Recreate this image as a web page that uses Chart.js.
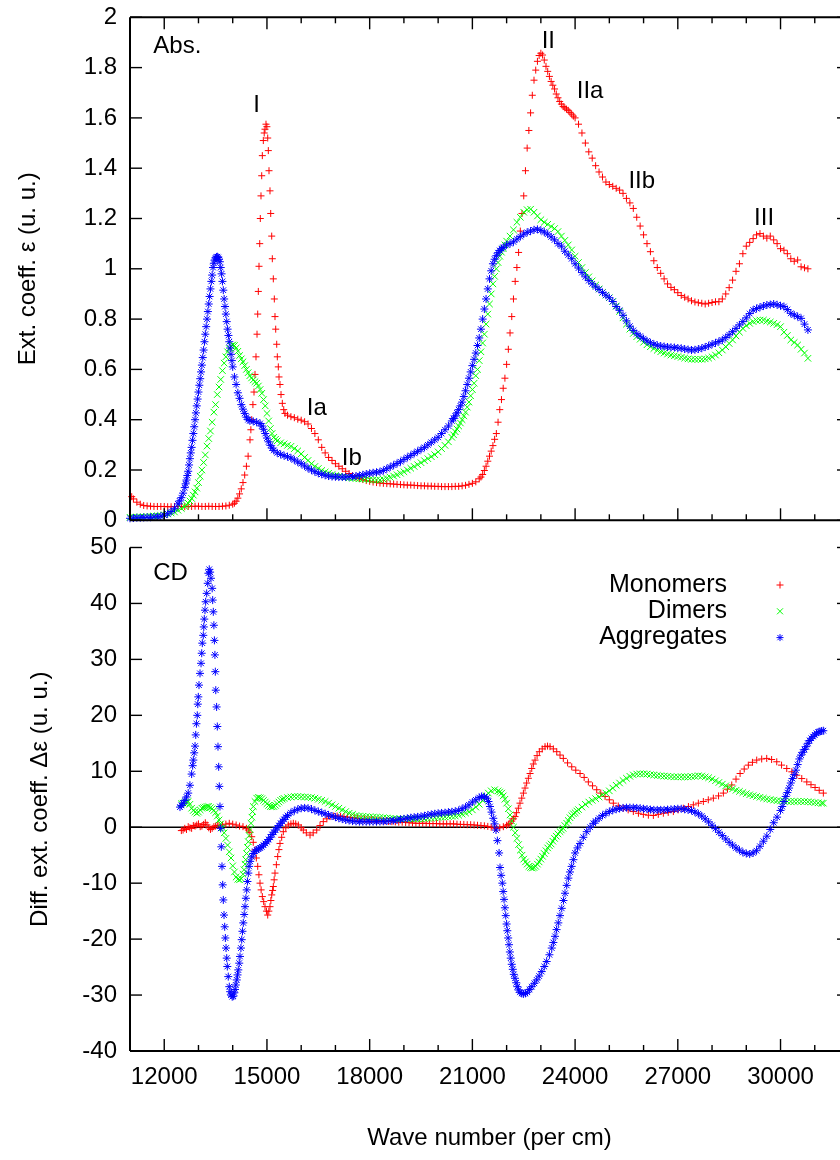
<!DOCTYPE html>
<html>
<head>
<meta charset="utf-8">
<script src="https://cdn.jsdelivr.net/npm/chart.js@4.4.0/dist/chart.umd.min.js"></script>
<style>
  html, body { margin: 0; padding: 0; background: #fff; overflow: hidden; width: 840px; height: 1160px; }
  canvas { position: absolute; left: 0; }
  #absChart { top: 0; }
  #cdChart { top: 525px; }
</style>
</head>
<body>
<canvas id="absChart" width="850" height="540"></canvas>
<canvas id="cdChart" width="850" height="635"></canvas>
<script>
// ---- data: [wave number (per cm), value] ----
const seriesNames = ['Monomers', 'Dimers', 'Aggregates'];
const xTickLabels = [12000, 15000, 18000, 21000, 24000, 27000, 30000];
const xMinorTicks = [13000, 14000, 16000, 17000, 19000, 20000, 22000, 23000, 25000, 26000, 28000, 29000, 31000];
const absTicks = [0, 0.2, 0.4, 0.6, 0.8, 1, 1.2, 1.4, 1.6, 1.8, 2];
const cdTicks = [-40, -30, -20, -10, 0, 10, 20, 30, 40, 50];

const absMonomers = [
  [11050,.094],[11100,.085],[11200,.072],[11300,.064],[11400,.059],[11500,.057],[11600,.056],[11700,.055],[11800,.055],[11900,.055],
  [12000,.055],[12100,.054],[12200,.054],[12300,.055],[12400,.055],[12500,.055],[12600,.054],[12700,.055],[12800,.055],[12900,.056],
  [13000,.056],[13100,.055],[13200,.055],[13300,.056],[13400,.055],[13500,.055],[13600,.055],[13700,.056],[13800,.057],[13900,.06],
  [14000,.064],[14050,.068],[14100,.076],[14150,.088],[14200,.105],[14250,.125],[14300,.15],[14350,.18],[14400,.215],[14450,.255],
  [14505,.32],[14530,.36],[14555,.40],[14590,.46],[14622,.51],[14651,.58],[14680,.65],[14710,.74],[14730,.82],[14748,.91],
  [14768,1.01],[14789,1.10],[14806,1.20],[14826,1.29],[14847,1.37],[14865,1.45],[14894,1.51],[14920,1.54],[14943,1.555],[14972,1.575],
  [14998,1.565],[15022,1.52],[15040,1.47],[15060,1.39],[15089,1.31],[15110,1.22],[15139,1.13],[15157,1.04],[15186,.96],[15215,.88],
  [15235,.81],[15256,.76],[15285,.70],[15303,.65],[15332,.61],[15352,.57],[15381,.54],[15411,.50],[15449,.465],[15490,.44],
  [15527,.425],[15600,.418],[15700,.412],[15800,.408],[15900,.402],[16000,.398],[16100,.392],[16200,.383],[16300,.365],[16400,.345],
  [16500,.32],[16600,.29],[16700,.268],[16800,.25],[16900,.238],[17000,.225],[17100,.215],[17200,.205],[17300,.195],[17400,.186],
  [17500,.178],[17600,.171],[17700,.166],[17800,.162],[17900,.158],[18000,.155],[18100,.152],[18200,.15],[18300,.148],[18400,.147],
  [18500,.146],[18600,.145],[18700,.144],[18800,.143],[18900,.142],[19000,.141],[19100,.14],[19200,.14],[19300,.139],[19400,.138],
  [19500,.137],[19600,.137],[19700,.136],[19800,.136],[19900,.135],[20000,.135],[20100,.134],[20200,.134],[20300,.134],[20400,.134],
  [20500,.135],[20600,.135],[20700,.137],[20800,.139],[20900,.143],[21000,.147],[21100,.153],[21200,.165],[21250,.172],[21300,.182],
  [21350,.198],[21400,.215],[21450,.235],[21500,.255],[21550,.275],[21600,.297],[21650,.322],[21700,.345],[21750,.39],[21800,.44],
  [21850,.48],[21900,.525],[21950,.565],[22000,.62],[22050,.68],[22100,.745],[22150,.81],[22200,.88],[22250,.95],[22300,1.005],
  [22350,1.065],[22400,1.15],[22450,1.22],[22500,1.29],[22550,1.39],[22600,1.48],[22650,1.55],[22700,1.62],[22750,1.69],[22800,1.75],
  [22850,1.79],[22900,1.825],[22950,1.848],[23000,1.857],[23050,1.85],[23100,1.83],[23150,1.805],[23200,1.785],[23250,1.765],[23300,1.745],
  [23350,1.73],[23400,1.715],[23450,1.695],[23500,1.68],[23550,1.665],[23600,1.655],[23650,1.645],[23700,1.64],[23750,1.635],[23800,1.63],
  [23850,1.622],[23900,1.615],[23950,1.607],[24000,1.6],[24100,1.575],[24200,1.54],[24300,1.5],[24400,1.465],[24500,1.44],[24600,1.41],
  [24700,1.385],[24800,1.365],[24900,1.345],[25000,1.335],[25100,1.328],[25200,1.32],[25300,1.313],[25400,1.3],[25500,1.28],[25600,1.262],
  [25700,1.24],[25800,1.205],[25900,1.17],[26000,1.135],[26100,1.1],[26200,1.068],[26300,1.032],[26400,1.005],[26500,.982],[26600,.96],
  [26700,.94],[26800,.926],[26900,.917],[27000,.905],[27100,.894],[27200,.887],[27300,.88],[27400,.873],[27500,.868],[27600,.865],
  [27700,.863],[27800,.86],[27900,.863],[28000,.866],[28100,.869],[28200,.869],[28300,.88],[28400,.9],[28500,.925],[28600,.955],
  [28700,.99],[28800,1.02],[28900,1.06],[29000,1.09],[29100,1.105],[29200,1.12],[29300,1.135],[29400,1.14],[29500,1.13],[29600,1.122],
  [29700,1.13],[29800,1.115],[29900,1.1],[30000,1.08],[30100,1.074],[30200,1.06],[30300,1.04],[30400,1.03],[30500,1.035],[30600,1.008],
  [30700,1.004],[30800,1.0]
];

const absDimers = [
  [11000,.012],[11100,.013],[11200,.013],[11300,.014],[11400,.014],[11500,.015],[11600,.016],[11700,.017],[11800,.018],[11900,.019],
  [12000,.022],[12100,.025],[12200,.029],[12300,.033],[12400,.04],[12500,.047],[12600,.055],[12650,.061],[12700,.068],[12750,.077],
  [12800,.087],[12850,.1],[12900,.113],[12950,.128],[13000,.15],[13050,.175],[13100,.2],[13150,.23],[13200,.26],[13250,.295],
  [13300,.325],[13350,.355],[13400,.39],[13450,.43],[13500,.46],[13550,.5],[13600,.53],[13650,.56],[13700,.595],[13750,.625],
  [13800,.65],[13850,.67],[13900,.683],[13950,.693],[14000,.697],[14050,.695],[14100,.685],[14150,.672],[14200,.655],[14250,.642],
  [14300,.63],[14350,.615],[14400,.6],[14450,.587],[14500,.575],[14550,.566],[14600,.558],[14650,.551],[14700,.545],[14750,.534],
  [14800,.52],[14850,.505],[14900,.48],[14950,.455],[15000,.425],[15050,.395],[15100,.365],[15150,.345],[15200,.33],[15250,.322],
  [15300,.316],[15400,.308],[15500,.304],[15600,.298],[15700,.294],[15800,.285],[15900,.276],[16000,.264],[16100,.25],[16200,.238],
  [16300,.225],[16400,.214],[16500,.206],[16600,.198],[16700,.192],[16800,.187],[16900,.182],[17000,.178],[17100,.175],[17200,.173],
  [17300,.171],[17400,.169],[17500,.167],[17600,.166],[17700,.165],[17800,.164],[17900,.163],[18000,.162],[18100,.161],[18200,.16],
  [18300,.16],[18400,.163],[18500,.167],[18600,.171],[18700,.176],[18800,.181],[18900,.187],[19000,.193],[19100,.2],[19200,.207],
  [19300,.214],[19400,.221],[19500,.229],[19600,.237],[19700,.245],[19800,.253],[19900,.261],[20000,.272],[20100,.285],[20200,.298],
  [20300,.312],[20400,.33],[20450,.34],[20500,.352],[20550,.363],[20600,.375],[20650,.387],[20700,.4],[20750,.415],[20800,.43],
  [20850,.45],[20900,.47],[20950,.495],[21000,.52],[21050,.545],[21100,.575],[21150,.6],[21200,.635],[21250,.67],[21300,.705],
  [21350,.74],[21400,.78],[21450,.82],[21500,.86],[21550,.9],[21600,.94],[21650,.97],[21700,1.0],[21750,1.025],[21800,1.05],
  [21850,1.066],[21900,1.08],[21950,1.095],[22000,1.11],[22100,1.13],[22200,1.155],[22300,1.185],[22400,1.205],[22500,1.225],[22600,1.235],
  [22700,1.237],[22800,1.225],[22900,1.21],[23000,1.195],[23100,1.185],[23200,1.177],[23300,1.168],[23400,1.16],[23500,1.148],[23600,1.13],
  [23700,1.113],[23800,1.095],[23900,1.075],[24000,1.05],[24100,1.025],[24200,1.005],[24300,.985],[24400,.968],[24500,.952],[24600,.935],
  [24700,.92],[24800,.906],[24900,.895],[25000,.885],[25100,.87],[25200,.852],[25300,.83],[25400,.805],[25500,.78],[25600,.76],
  [25700,.743],[25800,.73],[25900,.72],[26000,.708],[26100,.698],[26200,.69],[26300,.683],[26400,.676],[26500,.67],[26600,.665],
  [26700,.661],[26800,.657],[26900,.654],[27000,.651],[27100,.648],[27200,.645],[27300,.642],[27400,.64],[27500,.64],[27600,.64],
  [27700,.64],[27800,.642],[27900,.645],[28000,.65],[28100,.657],[28200,.666],[28300,.677],[28400,.69],[28500,.703],[28600,.717],
  [28700,.733],[28800,.748],[28900,.763],[29000,.774],[29100,.783],[29200,.79],[29300,.794],[29400,.796],[29500,.796],[29600,.792],
  [29700,.788],[29800,.783],[29900,.778],[30000,.77],[30100,.748],[30200,.735],[30300,.717],[30400,.707],[30500,.697],[30600,.68],
  [30700,.665],[30800,.644]
];

const absAggregates = [
  [11000,.008],[11100,.009],[11200,.01],[11300,.01],[11400,.011],[11500,.012],[11600,.012],[11700,.013],[11800,.014],[11900,.016],
  [12000,.02],[12100,.026],[12200,.035],[12300,.046],[12400,.065],[12450,.077],[12500,.09],[12550,.108],[12600,.13],[12625,.145],
  [12650,.16],[12675,.178],[12700,.195],[12725,.22],[12750,.245],[12775,.268],[12800,.29],[12825,.318],[12850,.345],[12875,.372],
  [12900,.4],[12925,.427],[12950,.455],[12975,.482],[13000,.51],[13025,.537],[13050,.563],[13075,.59],[13100,.617],[13125,.647],
  [13150,.677],[13175,.71],[13200,.74],[13225,.77],[13250,.8],[13275,.83],[13300,.86],[13325,.89],[13350,.92],[13375,.95],
  [13400,.975],[13425,1.005],[13450,1.022],[13475,1.035],[13500,1.043],[13525,1.047],[13550,1.048],[13575,1.045],[13600,1.038],[13625,1.028],
  [13650,1.005],[13675,.98],[13700,.95],[13725,.915],[13750,.88],[13775,.85],[13800,.82],[13825,.79],[13850,.76],[13875,.735],
  [13900,.71],[13925,.685],[13950,.66],[13975,.635],[14000,.61],[14050,.57],[14100,.54],[14150,.507],[14200,.485],[14250,.46],
  [14300,.442],[14350,.425],[14400,.41],[14450,.4],[14500,.396],[14600,.393],[14700,.39],[14800,.385],[14850,.375],[14900,.362],
  [14950,.345],[15000,.327],[15050,.312],[15100,.298],[15150,.287],[15200,.278],[15300,.268],[15400,.262],[15500,.257],[15600,.253],
  [15700,.248],[15800,.24],[15900,.232],[16000,.225],[16100,.216],[16200,.207],[16300,.2],[16400,.193],[16500,.187],[16600,.183],
  [16700,.179],[16800,.176],[16900,.174],[17000,.173],[17100,.172],[17200,.172],[17300,.172],[17400,.173],[17500,.174],[17600,.176],
  [17700,.178],[17800,.181],[17900,.184],[18000,.187],[18100,.189],[18200,.191],[18300,.193],[18400,.198],[18500,.205],[18600,.212],
  [18700,.219],[18800,.226],[18900,.233],[19000,.242],[19100,.25],[19200,.258],[19300,.266],[19400,.274],[19500,.282],[19600,.29],
  [19700,.3],[19800,.31],[19900,.32],[20000,.33],[20100,.345],[20200,.36],[20300,.375],[20400,.395],[20450,.405],[20500,.415],
  [20550,.427],[20600,.44],[20650,.455],[20700,.47],[20750,.492],[20800,.515],[20850,.54],[20900,.565],[20950,.59],[21000,.615],
  [21050,.64],[21100,.665],[21150,.695],[21200,.725],[21250,.76],[21300,.8],[21350,.84],[21400,.88],[21450,.92],[21500,.96],
  [21550,.992],[21600,1.02],[21650,1.038],[21700,1.052],[21750,1.064],[21800,1.073],[21850,1.08],[21900,1.085],[22000,1.095],[22100,1.1],
  [22200,1.107],[22300,1.118],[22400,1.128],[22500,1.138],[22600,1.145],[22700,1.15],[22800,1.155],[22900,1.157],[23000,1.153],[23100,1.146],
  [23200,1.138],[23300,1.127],[23400,1.115],[23500,1.1],[23600,1.09],[23700,1.07],[23800,1.055],[23900,1.04],[24000,1.02],[24100,1.003],
  [24200,.985],[24300,.968],[24400,.953],[24500,.94],[24600,.928],[24700,.918],[24800,.906],[24900,.895],[25000,.885],[25100,.87],
  [25200,.85],[25300,.835],[25400,.815],[25500,.793],[25600,.772],[25700,.755],[25800,.742],[25900,.732],[26000,.722],[26100,.713],
  [26200,.706],[26300,.7],[26400,.696],[26500,.693],[26600,.691],[26700,.689],[26800,.688],[26900,.687],[27000,.685],[27100,.684],
  [27200,.681],[27300,.679],[27400,.677],[27500,.678],[27600,.681],[27700,.684],[27800,.689],[27900,.694],[28000,.7],[28100,.705],
  [28200,.711],[28300,.717],[28400,.727],[28500,.738],[28600,.75],[28700,.763],[28800,.777],[28900,.79],[29000,.805],[29100,.822],
  [29200,.836],[29300,.842],[29400,.847],[29500,.852],[29600,.856],[29700,.858],[29800,.86],[29900,.857],[30000,.853],[30100,.85],
  [30200,.838],[30300,.823],[30400,.816],[30500,.81],[30600,.803],[30700,.78],[30800,.757]
];

const cdMonomers = [
  [12500,-0.6],[12550,-0.5],[12600,-0.2],[12650,-0.4],[12700,0.1],[12750,-0.1],[12800,-0.2],[12850,0.3],[12900,0.2],[12950,0.4],
  [13000,0.6],[13050,0.1],[13100,0.2],[13150,0.5],[13200,0.8],[13250,0.4],[13300,-0.1],[13350,-0.4],[13400,-0.2],[13450,0.1],
  [13500,0.2],[13550,0.3],[13600,0.35],[13700,0.4],[13800,0.55],[13900,0.7],[14000,0.55],[14100,0.4],[14200,0.2],[14300,0.1],
  [14400,-0.2],[14456,-0.5],[14500,-0.9],[14555,-1.7],[14600,-2.7],[14651,-4.05],[14690,-5.5],[14730,-7],[14765,-8.5],[14797,-10],
  [14830,-11.2],[14865,-12.4],[14905,-13.3],[14943,-14.2],[14985,-15],[15022,-15.7],[15055,-15],[15089,-14.2],[15115,-13.1],[15139,-12.1],
  [15165,-11.3],[15186,-10.6],[15210,-9.4],[15235,-8.2],[15275,-6.7],[15314,-5.25],[15350,-4],[15381,-2.9],[15430,-1.8],[15478,-0.8],
  [15550,-0.1],[15624,0.4],[15700,0.6],[15770,0.7],[15840,0.6],[15916,0.4],[16000,-0.1],[16062,-0.5],[16150,-1],[16258,-1.4],
  [16350,-1],[16454,-0.5],[16550,0.3],[16646,1],[16750,1.5],[16842,1.9],[16950,2],[17050,2],[17150,1.95],[17250,1.9],
  [17350,1.8],[17450,1.75],[17550,1.7],[17650,1.6],[17750,1.5],[17850,1.45],[17950,1.4],[18050,1.35],[18150,1.3],[18250,1.2],
  [18350,1.15],[18450,1.1],[18550,1.05],[18650,1],[18750,0.95],[18850,0.9],[18950,0.9],[19050,0.85],[19150,0.8],[19250,0.75],
  [19350,0.7],[19450,0.7],[19550,0.7],[19650,0.7],[19750,0.65],[19850,0.65],[19950,0.65],[20050,0.6],[20150,0.6],[20250,0.6],
  [20350,0.6],[20450,0.6],[20550,0.55],[20650,0.5],[20750,0.5],[20850,0.45],[20950,0.45],[21050,0.4],[21150,0.35],[21250,0.3],
  [21350,0.25],[21450,0.15],[21550,0],[21650,-0.15],[21711,-0.2],[21800,-0.1],[21904,0.1],[22000,0.35],[22050,0.5],[22100,0.7],
  [22150,1.1],[22200,1.5],[22246,1.9],[22290,2.6],[22342,3.4],[22390,4.3],[22442,5.2],[22490,6.1],[22538,7],[22585,7.9],
  [22635,8.75],[22685,9.6],[22734,10.5],[22780,11.3],[22830,12],[22890,12.8],[22956,13.5],[23040,14],[23122,14.4],[23195,14.5],
  [23268,14.4],[23365,14],[23464,13.5],[23560,12.9],[23656,12.3],[23780,11.5],[23902,10.8],[24020,10.2],[24145,9.6],[24265,8.9],
  [24387,8.1],[24510,7.4],[24632,6.7],[24750,6.1],[24875,5.5],[25000,4.9],[25117,4.3],[25260,3.8],[25409,3.4],[25550,3.1],
  [25701,2.8],[25850,2.5],[25994,2.3],[26140,2.15],[26286,2.1],[26430,2.3],[26578,2.5],[26720,2.65],[26870,2.8],[27010,3.1],
  [27162,3.4],[27310,3.7],[27454,4],[27600,4.3],[27746,4.6],[27890,4.9],[28038,5.2],[28190,5.6],[28330,6.1],[28450,6.8],
  [28575,7.55],[28700,8.6],[28819,9.6],[28940,10.4],[29060,11.1],[29180,11.6],[29305,12],[29450,12.2],[29597,12.3],[29740,12.1],
  [29890,11.7],[30030,11.1],[30182,10.5],[30330,9.9],[30474,9.3],[30620,8.7],[30767,8.1],[30890,7.6],[31009,7.1],[31130,6.6],
  [31251,6.1]
];

const cdDimers = [
  [12500,4.2],[12550,4.3],[12600,4.4],[12650,4.5],[12700,4.6],[12750,4.1],[12800,3.4],[12850,3],[12900,2.7],[12950,2.5],
  [13000,2.7],[13050,3.1],[13100,3.4],[13150,3.5],[13200,3.6],[13250,3.7],[13300,3.7],[13350,3.5],[13400,3.3],[13450,3],
  [13500,2.6],[13550,2],[13600,1.3],[13650,0.6],[13700,-0.1],[13750,-1],[13800,-2],[13850,-3.2],[13900,-4.4],[13950,-5.5],
  [14000,-6.9],[14050,-8],[14100,-8.9],[14150,-9.3],[14200,-9.4],[14250,-9.2],[14300,-8.4],[14330,-7.6],[14360,-6.6],[14380,-5.8],
  [14405,-4.7],[14430,-3.6],[14456,-2.6],[14480,-1.5],[14505,-0.4],[14534,0.7],[14560,1.8],[14580,2.8],[14602,3.7],[14650,4.6],
  [14700,5.2],[14750,5.3],[14800,5.25],[14850,5.1],[14900,4.8],[14950,4.5],[15000,4.2],[15050,3.9],[15100,3.7],[15150,3.65],
  [15200,3.7],[15250,3.9],[15300,4.2],[15350,4.5],[15400,4.8],[15450,5],[15500,5.15],[15600,5.3],[15700,5.4],[15800,5.5],
  [15900,5.5],[16000,5.45],[16100,5.4],[16200,5.35],[16300,5.3],[16400,5.2],[16500,5],[16600,4.8],[16700,4.6],[16800,4.3],
  [16900,4],[17000,3.7],[17100,3.4],[17200,3.1],[17300,2.8],[17400,2.5],[17500,2.3],[17600,2.1],[17700,2],[17800,1.95],
  [17900,1.9],[18000,1.85],[18100,1.8],[18200,1.8],[18300,1.75],[18400,1.7],[18500,1.65],[18600,1.6],[18700,1.55],[18800,1.5],
  [18900,1.5],[19000,1.5],[19100,1.5],[19200,1.5],[19300,1.5],[19400,1.5],[19500,1.5],[19600,1.55],[19700,1.6],[19800,1.65],
  [19900,1.7],[20000,1.75],[20100,1.8],[20200,1.85],[20300,1.9],[20400,1.95],[20500,2],[20600,2.15],[20700,2.35],[20800,2.55],
  [20900,2.75],[21000,3.1],[21100,3.6],[21200,4.1],[21300,4.8],[21400,5.6],[21466,6.1],[21550,6.5],[21650,6.7],[21750,6.5],
  [21800,6.3],[21857,6.1],[21900,5.6],[21950,5],[22000,4.3],[22050,3.3],[22100,2.2],[22150,1.1],[22200,0],[22250,-1],
  [22300,-2],[22350,-3.1],[22400,-4.1],[22450,-5],[22500,-5.7],[22550,-6.2],[22600,-6.6],[22650,-7],[22700,-7.2],[22750,-7.3],
  [22800,-7.2],[22850,-7],[22900,-6.6],[22950,-6.2],[23000,-5.7],[23050,-5.2],[23100,-4.7],[23150,-4.2],[23200,-3.7],[23250,-3.3],
  [23300,-3],[23350,-2.5],[23400,-2],[23450,-1.6],[23500,-1.2],[23560,-0.8],[23600,-0.5],[23650,-0.2],[23700,0.3],[23756,0.7],
  [23800,1.2],[23850,1.7],[23900,2.1],[23950,2.4],[24000,2.6],[24050,2.9],[24100,3.15],[24200,3.6],[24300,4.1],[24400,4.5],
  [24500,4.8],[24600,5.1],[24700,5.4],[24800,5.8],[24900,6.1],[25000,6.5],[25100,7],[25200,7.5],[25300,7.9],[25400,8.35],
  [25500,8.75],[25600,9.1],[25700,9.35],[25800,9.5],[25900,9.55],[26000,9.55],[26100,9.5],[26200,9.4],[26300,9.35],[26400,9.25],
  [26500,9.2],[26600,9.15],[26700,9.1],[26800,9.05],[26900,9],[27000,9],[27100,9],[27200,9],[27300,9],[27400,9.05],
  [27500,9.1],[27600,9.2],[27700,9.15],[27800,9],[27900,8.85],[28000,8.6],[28100,8.3],[28200,8],[28300,7.7],[28400,7.4],
  [28500,7.1],[28600,6.85],[28700,6.6],[28800,6.4],[28900,6.2],[29000,6],[29100,5.8],[29200,5.65],[29300,5.5],[29400,5.35],
  [29500,5.2],[29600,5.05],[29700,4.95],[29800,4.85],[29900,4.75],[30000,4.7],[30100,4.65],[30200,4.6],[30300,4.6],[30400,4.6],
  [30500,4.6],[30600,4.6],[30700,4.6],[30800,4.55],[30900,4.5],[31000,4.4],[31100,4.35],[31200,4.3],[31250,4.3]
];

const cdAggregates = [
  [12460,3.6],[12500,3.9],[12550,4.3],[12600,4.8],[12650,5.4],[12700,6.1],[12750,7.5],[12800,9.5],[12830,11],[12850,12],
  [12875,13.3],[12900,14.5],[12920,16.5],[12940,18.5],[12965,20],[12980,22],[12995,23.3],[13015,25.4],[13045,27.5],[13075,29.3],
  [13095,31.1],[13112,32.9],[13140,34.3],[13155,35.8],[13170,37.2],[13190,38.8],[13210,40.3],[13240,41.8],[13270,43.6],[13290,45.4],
  [13315,46.1],[13340,45.6],[13365,44.5],[13400,42.7],[13415,40.6],[13433,38.5],[13450,36.1],[13465,33.4],[13480,30.8],[13492,27.8],
  [13505,24.5],[13530,21.5],[13550,18],[13570,14.4],[13590,10.8],[13608,7.3],[13628,3.7],[13648,-0.2],[13667,-3.5],[13687,-7],
  [13708,-10.3],[13725,-13],[13746,-15.7],[13766,-17.8],[13785,-19.8],[13805,-21.6],[13825,-23.4],[13842,-24.9],[13870,-26.7],[13900,-28.5],
  [13925,-29.4],[13950,-30],[13985,-30.3],[14017,-30.2],[14045,-29.6],[14067,-29],[14090,-28.2],[14117,-27.3],[14140,-26.4],[14163,-25.5],
  [14190,-24.3],[14213,-23.1],[14240,-21.6],[14263,-20.1],[14285,-18.6],[14309,-17.1],[14335,-15.6],[14359,-14.2],[14385,-12.7],[14409,-11.2],
  [14430,-9.7],[14456,-8.2],[14480,-7],[14510,-6.1],[14555,-5.3],[14600,-4.7],[14650,-4.3],[14700,-4.05],[14750,-3.9],[14800,-3.7],
  [14850,-3.5],[14900,-3.2],[14950,-2.9],[15000,-2.6],[15050,-2.2],[15100,-1.8],[15150,-1.3],[15200,-0.9],[15250,-0.5],[15300,-0.1],
  [15350,0.3],[15400,0.7],[15450,1.1],[15500,1.4],[15550,1.8],[15600,2.1],[15700,2.6],[15800,2.95],[15900,3.2],[16000,3.4],
  [16100,3.45],[16200,3.4],[16300,3.25],[16400,3],[16500,2.8],[16600,2.6],[16700,2.4],[16800,2.2],[16900,2],[17000,1.8],
  [17100,1.6],[17200,1.45],[17300,1.3],[17400,1.2],[17500,1.1],[17600,1.05],[17700,1],[17800,1],[17900,1],[18000,1],
  [18100,1],[18200,1],[18300,1.02],[18400,1.05],[18500,1.1],[18600,1.15],[18700,1.2],[18800,1.3],[18900,1.4],[19000,1.5],
  [19100,1.6],[19200,1.7],[19300,1.8],[19400,1.85],[19500,1.95],[19600,2.05],[19700,2.2],[19800,2.3],[19900,2.4],[20000,2.5],
  [20100,2.55],[20200,2.6],[20300,2.7],[20400,2.75],[20500,2.85],[20600,3],[20700,3.3],[20800,3.6],[20900,4],[21000,4.5],
  [21100,4.9],[21200,5.3],[21270,5.5],[21350,5.45],[21420,5.2],[21470,4.6],[21515,3.7],[21560,2.7],[21610,1.6],[21650,0.6],
  [21690,-0.5],[21730,-2.4],[21780,-4.6],[21808,-7.2],[21840,-8.6],[21875,-10],[21900,-11.5],[21925,-12.9],[21950,-14.4],[21975,-15.8],
  [22000,-17.3],[22020,-18.5],[22045,-19.8],[22070,-21],[22095,-22.3],[22120,-23.4],[22150,-24.5],[22180,-25.4],[22210,-26.3],[22245,-27],
  [22280,-27.8],[22313,-28.5],[22350,-29.1],[22390,-29.5],[22440,-29.7],[22490,-29.8],[22550,-29.7],[22605,-29.5],[22670,-29],[22735,-28.5],
  [22810,-27.9],[22880,-27.3],[22950,-26.6],[23025,-25.8],[23100,-24.9],[23170,-24],[23250,-22.8],[23318,-21.6],[23365,-20.6],[23414,-19.5],
  [23460,-18.3],[23510,-17.1],[23560,-15.8],[23610,-14.5],[23660,-13.1],[23706,-11.8],[23755,-10.4],[23803,-9.1],[23850,-8],[23900,-7],
  [23950,-5.8],[24000,-4.6],[24070,-3.7],[24145,-2.9],[24240,-1.8],[24340,-0.8],[24440,0],[24533,0.7],[24600,1.1],[24700,1.6],
  [24800,2.1],[24900,2.45],[25000,2.8],[25100,3.05],[25200,3.2],[25300,3.35],[25400,3.45],[25500,3.5],[25600,3.5],[25700,3.5],
  [25800,3.45],[25900,3.4],[26000,3.3],[26100,3.25],[26200,3.15],[26300,3.1],[26400,3.1],[26500,3.1],[26600,3.1],[26700,3.15],
  [26800,3.2],[26900,3.25],[27000,3.3],[27100,3.3],[27200,3.2],[27300,3.1],[27400,3],[27500,2.7],[27600,2.4],[27700,2],
  [27800,1.5],[27900,0.95],[28000,0.35],[28100,-0.25],[28200,-0.9],[28300,-1.5],[28400,-2.1],[28500,-2.7],[28600,-3.2],[28700,-3.7],
  [28800,-4.1],[28900,-4.5],[29000,-4.7],[29100,-4.8],[29200,-4.6],[29300,-4.2],[29400,-3.4],[29500,-2.5],[29600,-1.6],[29700,-0.4],
  [29800,0.8],[29900,1.8],[30000,3],[30050,3.7],[30100,4.6],[30150,5.5],[30200,6.2],[30250,7],[30300,7.9],[30350,8.7],
  [30400,9.4],[30450,10.2],[30500,11.2],[30550,12.2],[30600,12.9],[30650,13.4],[30700,13.9],[30750,14.4],[30800,15],[30850,15.5],
  [30900,15.9],[30950,16.2],[31000,16.5],[31050,16.8],[31100,17],[31150,17.1],[31200,17.2],[31250,17.25]
];

// text placed in data coordinates: [text, wave number, value, align]
const absNotes = [
  ['Abs.', 11680, 1.883, 'left'], ['I', 14700, 1.651], ['Ia', 16454, 0.445], ['Ib', 17476, 0.246],
  ['II', 23218, 1.903], ['IIa', 24437, 1.704], ['IIb', 25946, 1.346], ['III', 29519, 1.2]
];
const cdNotes = [['CD', 11680, 45.4, 'left']];

// ---- drawing ----
const FONT = "'Liberation Sans', Arial, Helvetica, sans-serif";
Chart.defaults.font.family = FONT;
Chart.defaults.font.size = 24;
Chart.defaults.color = '#000';

const colors = ['#ff0000', '#00ff00', '#0000ff'];
const styles = ['cross', 'crossRot', 'star'];
const radii = [3.5, 4.6, 4];

function makeDatasets(lists) {
  return lists.map((pairs, i) => ({
    label: seriesNames[i],
    data: pairs.map(([x, y]) => ({ x, y })),
    pointStyle: styles[i],
    pointRadius: radii[i],
    pointBorderWidth: 1,
    pointBorderColor: colors[i],
    pointBackgroundColor: colors[i],
    borderColor: colors[i],
    backgroundColor: colors[i],
    order: 3 - i,
    clip: false
  }));
}

function line(ctx, x1, y1, x2, y2) {
  ctx.beginPath(); ctx.moveTo(x1, y1); ctx.lineTo(x2, y2); ctx.stroke();
}

function drawMarker(ctx, style, cx, cy, r, color) {
  ctx.strokeStyle = color;
  ctx.lineWidth = 1;
  if (style === 'cross' || style === 'star') {
    line(ctx, cx - r, cy, cx + r, cy);
    line(ctx, cx, cy - r, cx, cy + r);
  }
  if (style === 'crossRot' || style === 'star') {
    const d = r * 0.75;
    line(ctx, cx - d, cy - d, cx + d, cy + d);
    line(ctx, cx - d, cy + d, cx + d, cy - d);
  }
}

// gnuplot-like border with inward ticks, zero axis for the CD panel
const framePlugin = {
  id: 'frame',
  beforeDatasetsDraw(chart, args, opts) {
    if (!opts.zeroLine) return;
    const { ctx, chartArea: a, scales: { y } } = chart;
    ctx.save();
    ctx.strokeStyle = '#000';
    ctx.lineWidth = 1.6;
    const py = y.getPixelForValue(0);
    line(ctx, a.left, py, a.right, py);
    ctx.restore();
  },
  afterDatasetsDraw(chart, args, opts) {
    const { ctx, chartArea: a, scales: { x, y } } = chart;
    ctx.save();
    ctx.strokeStyle = '#000';
    ctx.lineWidth = 1.4;
    opts.yTicks.forEach(v => {
      const py = y.getPixelForValue(v);
      line(ctx, a.left, py, a.left + 12, py);
      line(ctx, a.right, py, a.right - 12, py);
    });
    const xt = (list, len) => list.forEach(v => {
      const px = x.getPixelForValue(v);
      line(ctx, px, a.bottom, px, a.bottom - len);
      if (opts.topTicks) line(ctx, px, a.top, px, a.top + len);
    });
    xt(xTickLabels, 12);
    xt(xMinorTicks, 6);
    ctx.lineWidth = 2;
    line(ctx, a.left, a.top, a.left, a.bottom);
    line(ctx, a.left, a.bottom, a.right, a.bottom);
    line(ctx, a.right, a.top, a.right, a.bottom);
    if (opts.topBorder) line(ctx, a.left, a.top, a.right, a.top);
    ctx.restore();
  }
};

const notesPlugin = {
  id: 'notes',
  afterDatasetsDraw(chart, args, opts) {
    const { ctx, scales: { x, y } } = chart;
    ctx.save();
    ctx.font = '24px ' + FONT;
    ctx.fillStyle = '#000';
    ctx.textBaseline = 'middle';
    opts.items.forEach(([text, wn, val, align]) => {
      ctx.textAlign = align || 'center';
      ctx.fillText(text, x.getPixelForValue(wn), y.getPixelForValue(val));
    });
    ctx.restore();
  }
};

const keyPlugin = {
  id: 'key',
  afterDatasetsDraw(chart, args, opts) {
    if (!opts.show) return;
    const { ctx, chartArea: a } = chart;
    ctx.save();
    ctx.font = '25px ' + FONT;
    ctx.textAlign = 'right';
    ctx.textBaseline = 'middle';
    chart.data.datasets.forEach((ds, i) => {
      const yy = a.top + 37.5 + i * 26.3;
      ctx.fillStyle = '#000';
      ctx.fillText(ds.label, a.right - 122, yy);
      drawMarker(ctx, ds.pointStyle, a.right - 69, yy, i === 1 ? 4 : 3.5, colors[i]);
    });
    ctx.restore();
  }
};

function xScale(show) {
  return {
    type: 'linear', min: 11000, max: 32000, display: show,
    grid: { display: false, drawTicks: false }, border: { display: false },
    afterBuildTicks: s => { s.ticks = xTickLabels.map(v => ({ value: v })); },
    afterFit: s => {
      s.height = show ? 109 : 0;
      s.paddingLeft = 0; s.paddingRight = 0;
    },
    ticks: { padding: 12, maxRotation: 0, autoSkip: false, callback: v => String(v) },
    title: { display: show, text: 'Wave number (per cm)', padding: { top: 0, bottom: 7 } }
  };
}

function yScale(min, max, ticks, title, titlePad) {
  return {
    type: 'linear', min, max,
    grid: { display: false, drawTicks: false }, border: { display: false },
    afterBuildTicks: s => { s.ticks = ticks.map(v => ({ value: v })); },
    afterFit: s => {
      s.width = 130;
      s.paddingTop = 0; s.paddingBottom = 0;
    },
    ticks: { padding: 13, autoSkip: false, font: { size: 24, lineHeight: 1 }, callback: v => String(Math.round(v * 10) / 10) },
    title: { display: true, text: title, padding: { top: titlePad, bottom: 0 } }
  };
}

const common = {
  responsive: false,
  animation: false,
  events: [],
  plugins: { legend: { display: false }, tooltip: { enabled: false } }
};

new Chart(document.getElementById('absChart'), {
  type: 'scatter',
  data: { datasets: makeDatasets([absMonomers, absDimers, absAggregates]) },
  options: {
    ...common,
    layout: { autoPadding: false, padding: { top: 17.3, bottom: 19.7, left: 0, right: 1 } },
    scales: {
      x: xScale(false),
      y: yScale(0, 2, absTicks, 'Ext. coeff. ε (u. u.)', 13.6)
    },
    plugins: {
      ...common.plugins,
      frame: { yTicks: absTicks, topTicks: true, topBorder: true, zeroLine: false },
      notes: { items: absNotes },
      key: { show: false }
    }
  },
  plugins: [framePlugin, notesPlugin, keyPlugin]
});

new Chart(document.getElementById('cdChart'), {
  type: 'scatter',
  data: { datasets: makeDatasets([cdMonomers, cdDimers, cdAggregates]) },
  options: {
    ...common,
    layout: { autoPadding: false, padding: { top: 22.5, bottom: 0, left: 0, right: 1 } },
    scales: {
      x: xScale(true),
      y: yScale(-40, 50, cdTicks, 'Diff. ext. coeff. Δε (u. u.)', 25.6)
    },
    plugins: {
      ...common.plugins,
      frame: { yTicks: cdTicks, topTicks: false, topBorder: false, zeroLine: true },
      notes: { items: cdNotes },
      key: { show: true }
    }
  },
  plugins: [framePlugin, notesPlugin, keyPlugin]
});
</script>
</body>
</html>
